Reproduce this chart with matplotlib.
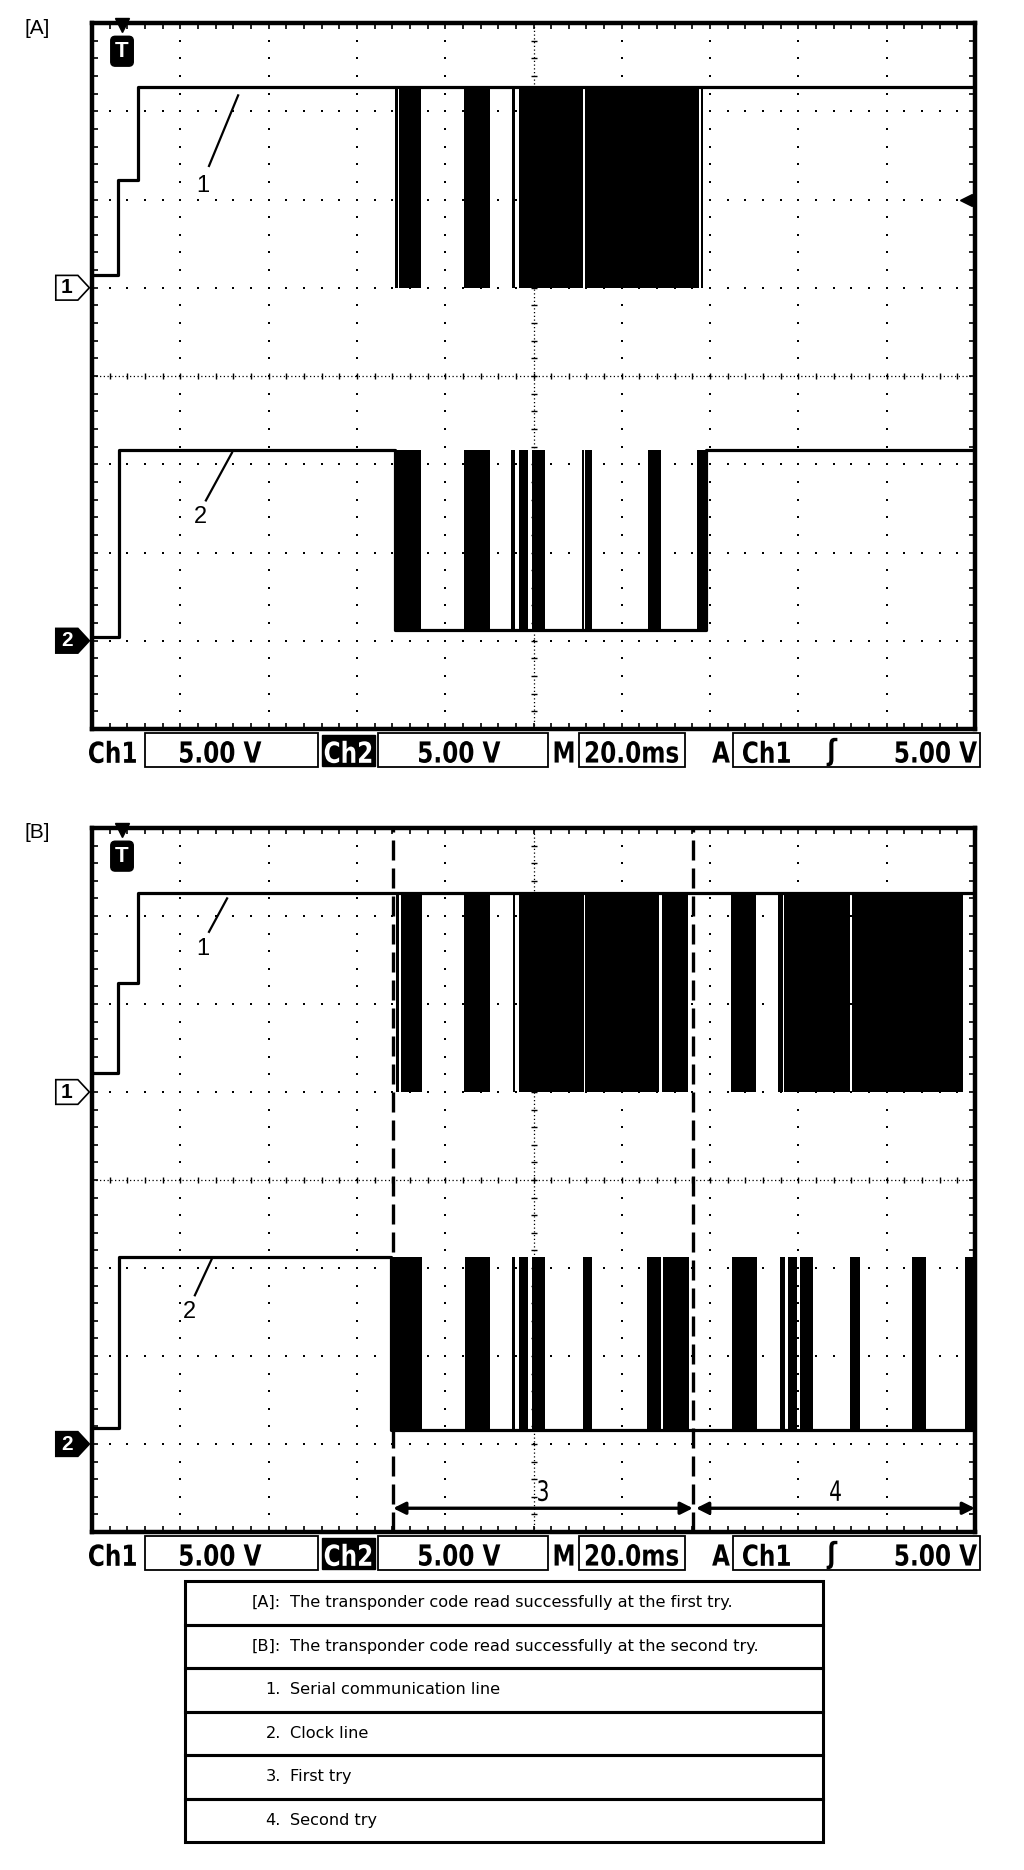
"""Two oscilloscope captures of a transponder read (first try / second try) with legend table."""
import matplotlib
matplotlib.use("Agg")
import matplotlib.pyplot as plt
from matplotlib.font_manager import FontProperties
from matplotlib.patches import PathPatch, Polygon, Rectangle
from matplotlib.textpath import TextPath
from matplotlib.transforms import Affine2D

W, H = 1024, 1870

# scope settings: 10 div x 20 ms, 8 div x 5 V
MS_PER_DIV = 20.0
V_PER_DIV = 5.0
CH1_GND = 5.0   # ground marker positions, in divisions from the bottom
CH2_GND = 1.0

# ---- [A] first try -------------------------------------------------------
a_ch1_t = [0.0, 5.9, 10.4, 200.0]
a_ch1_v = [0.7, 6.1, 11.4, 11.4]
a_ch1_burst_lo = 0.0
a_ch1_burst_start = [68.6, 69.6, 84.3, 95.1, 96.7, 111.7, 138.0]
a_ch1_burst_end = [69.2, 74.5, 90.1, 95.8, 111.3, 137.5, 138.4]

a_ch2_t = [0.0, 6.1, 68.6, 139.1, 200.0]
a_ch2_v = [0.2, 10.8, 0.6, 10.8, 10.8]
a_ch2_burst_start = [68.6, 84.3, 94.9, 96.7, 99.7, 111.0, 111.7, 125.9, 137.0]
a_ch2_burst_end = [74.5, 90.1, 95.8, 98.8, 102.6, 111.4, 113.3, 128.9, 139.1]

# ---- [B] second try ------------------------------------------------------
b_ch1_t = [0.0, 5.9, 10.4, 200.0]
b_ch1_v = [1.1, 6.2, 11.3, 11.3]
b_ch1_burst_lo = 0.0
b_ch1_burst_start = [68.9, 69.9, 84.3, 95.4, 96.7, 111.7, 129.1,
                     144.7, 155.4, 156.7, 172.1]
b_ch1_burst_end = [69.5, 74.7, 90.1, 95.8, 111.4, 128.4, 135.0,
                   150.4, 156.5, 171.7, 197.3]

b_ch2_t = [0.0, 6.1, 67.7, 200.0]
b_ch2_v = [0.9, 10.6, 0.8, 0.8]
b_ch2_burst_start = [67.7, 84.5, 95.1, 96.7, 99.7, 111.2, 125.7, 129.3,
                     145.0, 155.8, 157.6, 160.4, 171.7, 185.7, 197.7]
b_ch2_burst_end = [74.7, 90.1, 95.8, 98.8, 102.6, 113.3, 128.9, 135.2,
                   150.6, 157.0, 159.7, 163.3, 173.9, 188.9, 200.0]

b_try_marks = [68.2, 136.1]            # dashed separators
b_try_spans = [(68.2, 136.1), (136.8, 200.0)]
b_try_labels = ["3", "4"]

status_labels = ["Ch1", "5.00 V", "Ch2", "5.00 V", "M", "20.0ms", "A", "Ch1", "\u0283", "5.00 V"]

legend_keys = ["[A]:", "[B]:", "1.", "2.", "3.", "4."]
legend_texts = [
    "The transponder code read successfully at the first try.",
    "The transponder code read successfully at the second try.",
    "Serial communication line",
    "Clock line",
    "First try",
    "Second try",
]

SANS = ["Liberation Sans", "DejaVu Sans"]


def px_rect(l, t, r, b):
    return [l / W, 1 - b / H, (r - l) / W, (b - t) / H]


def fy(y):
    return 1 - y / H


def div(v, gnd):
    return gnd + v / V_PER_DIV


def narrow_text(fig, x, y, s, size_px, ha="left", color="k", sx=0.8, weight="bold"):
    """Condensed text placed in pixel coords (x from left, y from top), centred vertically."""
    tp = TextPath((0, 0), s, size=size_px, prop=FontProperties(family="DejaVu Sans", weight=weight))
    ext = tp.get_extents()
    if ha == "left":
        x0 = x - ext.x0 * sx
    elif ha == "center":
        x0 = x - (ext.x0 + ext.width / 2) * sx
    else:
        x0 = x - ext.x1 * sx
    y0 = (H - y) - (ext.y0 + ext.height / 2)
    fig.add_artist(PathPatch(tp, transform=Affine2D().scale(sx, 1).translate(x0, y0),
                             fc=color, ec="none", zorder=6))


def draw_graticule(ax):
    ax.set_xlim(0, 10 * MS_PER_DIV)
    ax.set_ylim(0, 8)
    sub_x = [i * MS_PER_DIV / 5 for i in range(51)]
    sub_y = [i * 0.2 for i in range(41)]
    for i in range(1, 10):
        if i == 5:
            continue
        x = i * MS_PER_DIV
        ax.plot([x] * len(sub_y), sub_y, ls="none", marker="s", ms=1.7, mew=0, color="k", zorder=1)
    for j in range(1, 8):
        if j == 4:
            continue
        ax.plot(sub_x, [j] * len(sub_x), ls="none", marker="s", ms=1.7, mew=0, color="k", zorder=1)
    # centre cross: fine dotted with small ticks
    ax.axhline(4, color="k", lw=0.9, ls=(0, (1, 2)), zorder=1)
    ax.axvline(100, color="k", lw=0.9, ls=(0, (1, 2)), zorder=1)
    ax.plot(sub_x, [4] * len(sub_x), ls="none", marker="|", ms=5, mew=1, color="k", zorder=1)
    ax.plot([100] * len(sub_y), sub_y, ls="none", marker="_", ms=5, mew=1, color="k", zorder=1)
    ax.set_xticks(sub_x)
    ax.set_yticks(sub_y)
    ax.tick_params(direction="in", length=4, width=1.2, top=True, right=True,
                   labelbottom=False, labelleft=False)
    for s in ax.spines.values():
        s.set_linewidth(3.2)


def draw_trace(ax, t, v, gnd, starts, ends, lo, hi):
    ax.step(t, [div(x, gnd) for x in v], where="post", color="k", lw=2.3, zorder=3)
    ax.bar(starts, [div(hi, gnd) - div(lo, gnd)] * len(starts),
           width=[e - s for s, e in zip(starts, ends)], bottom=div(lo, gnd),
           align="edge", color="k", lw=0, zorder=3)


def ch_marker(ax, y, label, filled):
    x0, x1, tip, h = -8.2, -3.2, -0.6, 0.14
    ax.add_patch(Polygon([(x0, y - h), (x1, y - h), (tip, y), (x1, y + h), (x0, y + h)],
                         closed=True, fc="k" if filled else "w", ec="k", lw=1.2,
                         clip_on=False, zorder=5))
    ax.text((x0 + x1) / 2, y, label, ha="center", va="center", fontsize=15,
            fontweight="bold", color="w" if filled else "k", family=SANS, clip_on=False, zorder=6)


def trig_marker(ax):
    ax.plot([6.8], [7.98], marker="v", ms=10, color="k", clip_on=False, zorder=6)
    ax.text(6.8, 7.68, "T", ha="center", va="center", color="w", fontsize=16,
            fontweight="bold", family=SANS, zorder=6,
            bbox=dict(boxstyle="round,pad=0.2", fc="k", ec="k"))


def label(ax, txt, xy_text, xy_line_a, xy_line_b):
    ax.plot([xy_line_a[0], xy_line_b[0]], [xy_line_a[1], xy_line_b[1]], color="k", lw=1.6, zorder=4)
    ax.text(xy_text[0], xy_text[1], txt, ha="center", va="center", fontsize=17, family=SANS, zorder=4)


def status_row(fig, top):
    tf = fig.transFigure
    boxes = [(145, 318), (378, 548), (579, 685), (733, 980)]
    for l, r in boxes:
        fig.add_artist(Rectangle((l / W, fy(top + 34)), (r - l) / W, 34 / H, transform=tf,
                                 fill=False, ec="k", lw=1.3))
    fig.add_artist(Rectangle((322 / W, fy(top + 33)), 53 / W, 31 / H, transform=tf, fc="k", ec="k"))
    pos = [(89, "left"), (180, "left"), (348, "center"), (419, "left"), (564, "center"),
           (632, "center"), (721, "center"), (743, "left"), (832, "center"), (977, "right")]
    for (x, ha), s in zip(pos, status_labels):
        narrow_text(fig, x, top + 19, s, 29, ha=ha, color="w" if s == "Ch2" else "k")


fig = plt.figure(figsize=(W / 100, H / 100), dpi=100)

# ---------------- panel A ----------------
axA = fig.add_axes(px_rect(92, 23, 975, 729))
draw_graticule(axA)
draw_trace(axA, a_ch1_t, a_ch1_v, CH1_GND, a_ch1_burst_start, a_ch1_burst_end, a_ch1_burst_lo, a_ch1_v[-1])
draw_trace(axA, a_ch2_t, a_ch2_v, CH2_GND, a_ch2_burst_start, a_ch2_burst_end, a_ch2_v[2], a_ch2_v[1])
label(axA, "1", (25.1, 6.15), (26.5, 6.38), (33.1, 7.18))
label(axA, "2", (24.5, 2.40), (25.8, 2.59), (31.7, 3.13))
ch_marker(axA, CH1_GND, "1", False)
ch_marker(axA, CH2_GND, "2", True)
trig_marker(axA)
axA.plot([198.0], [6.0], marker="<", ms=8, color="k", zorder=6)
fig.text(24 / W, fy(29), "[A]", ha="left", va="center", fontsize=15, family=SANS)
status_row(fig, 733)

# ---------------- panel B ----------------
axB = fig.add_axes(px_rect(92, 828, 975, 1532))
draw_graticule(axB)
draw_trace(axB, b_ch1_t, b_ch1_v, CH1_GND, b_ch1_burst_start, b_ch1_burst_end, b_ch1_burst_lo, b_ch1_v[-1])
draw_trace(axB, b_ch2_t, b_ch2_v, CH2_GND, b_ch2_burst_start, b_ch2_burst_end, b_ch2_v[2], b_ch2_v[1])
label(axB, "1", (25.1, 6.63), (26.5, 6.82), (30.6, 7.20))
label(axB, "2", (22.0, 2.50), (23.3, 2.69), (27.2, 3.11))
ch_marker(axB, CH1_GND, "1", False)
ch_marker(axB, CH2_GND, "2", True)
trig_marker(axB)
for x in b_try_marks:
    axB.axvline(x, color="k", lw=2.4, ls=(0, (6, 2.4)), zorder=4)
for (x0, x1), s in zip(b_try_spans, b_try_labels):
    axB.annotate("", xy=(x0, 0.27), xytext=(x1, 0.27),
                 arrowprops=dict(arrowstyle="<|-|>", color="k", lw=2.4, mutation_scale=18,
                                 shrinkA=0, shrinkB=0), zorder=5)
    px, py = axB.transData.transform(((x0 + x1) / 2, 0.47))
    narrow_text(fig, px, H - py, s, 28, ha="center", sx=0.72, weight="normal")
fig.text(24 / W, fy(833), "[B]", ha="left", va="center", fontsize=15, family=SANS)
status_row(fig, 1536)

# ---------------- legend table ----------------
tl, tr, ttop, row_h = 185, 823, 1581, 43.5
tf = fig.transFigure
for i, (k, s) in enumerate(zip(legend_keys, legend_texts)):
    top = ttop + i * row_h
    fig.add_artist(Rectangle((tl / W, fy(top + row_h)), (tr - tl) / W, row_h / H,
                             transform=tf, fill=False, ec="k", lw=2.2))
    yc = fy(top + row_h / 2)
    fig.text(281 / W, yc, k, ha="right", va="center", fontsize=11.6, family=["DejaVu Sans"])
    fig.text(290 / W, yc, s, ha="left", va="center", fontsize=11.6, family=["DejaVu Sans"])

fig.savefig("out.png", dpi=100)
